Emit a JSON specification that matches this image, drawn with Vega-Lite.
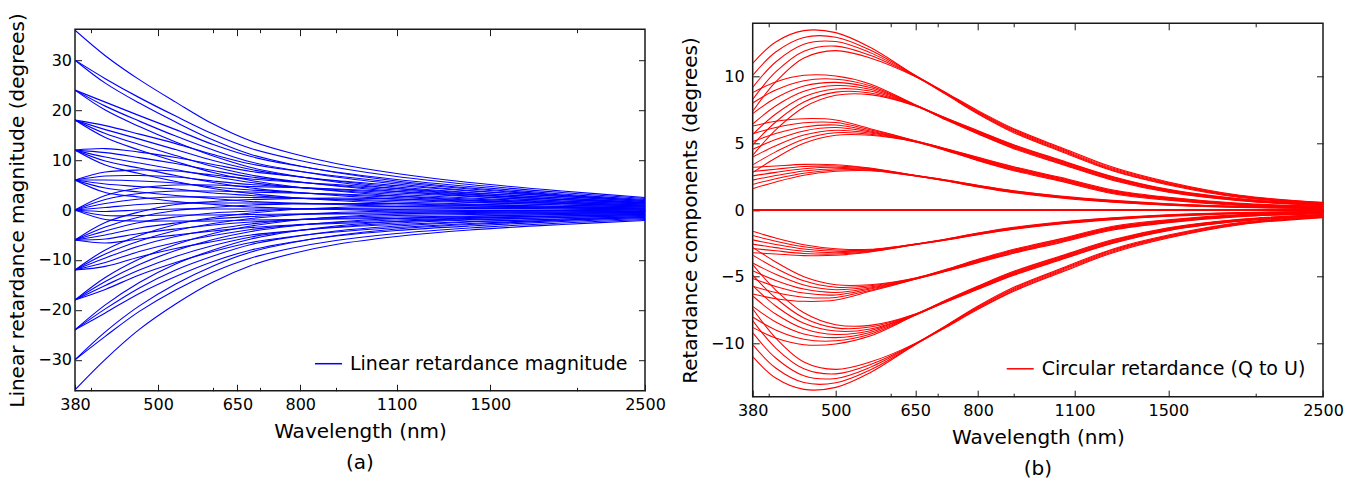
{
"$schema":"https://vega.github.io/schema/vega-lite/v6.json",
"background":"white",
"padding":{"left":6,"top":11,"right":5,"bottom":5},
"config":{"font":"DejaVu Sans","view":{"stroke":"#1a1a1a","strokeWidth":1.5},
"axis":{"grid":false,"domain":false,"tickColor":"#1a1a1a","tickWidth":1,"labelColor":"black","titleColor":"black","labelFontSize":16,"titleFontSize":20,"titleFontWeight":"normal","labelOverlap":false,"labelFlush":false},
"legend":{"labelFontSize":19,"labelColor":"black","labelLimit":0,"padding":0,"symbolSize":729,"symbolStrokeWidth":1.5,"labelOffset":7,"title":null},
"title":{"fontSize":20,"fontWeight":"normal","color":"black","orient":"bottom","anchor":"middle","offset":12}},
"datasets":{
"a":[
{"s":1,"x":380,"y":36},{"s":1,"x":420,"y":30.9},{"s":1,"x":470,"y":26.1},{"s":1,"x":530,"y":21.6},{"s":1,"x":600,"y":17.2},{"s":1,"x":680,"y":13.8},{"s":1,"x":780,"y":11.3},{"s":1,"x":900,"y":9.3},{"s":1,"x":1100,"y":7.3},{"s":1,"x":1400,"y":5.5},{"s":1,"x":1900,"y":3.8},{"s":1,"x":2500,"y":2.5},
{"s":2,"x":380,"y":30},{"s":2,"x":420,"y":26.3},{"s":2,"x":470,"y":22.5},{"s":2,"x":530,"y":18.8},{"s":2,"x":600,"y":15.2},{"s":2,"x":680,"y":12.3},{"s":2,"x":780,"y":10.2},{"s":2,"x":900,"y":8.5},{"s":2,"x":1100,"y":6.7},{"s":2,"x":1400,"y":5.1},{"s":2,"x":1900,"y":3.5},{"s":2,"x":2500,"y":2.3},
{"s":3,"x":380,"y":30},{"s":3,"x":420,"y":25.4},{"s":3,"x":470,"y":21.4},{"s":3,"x":530,"y":17.6},{"s":3,"x":600,"y":14.0},{"s":3,"x":680,"y":11.1},{"s":3,"x":780,"y":9.1},{"s":3,"x":900,"y":7.5},{"s":3,"x":1100,"y":5.8},{"s":3,"x":1400,"y":4.4},{"s":3,"x":1900,"y":3.0},{"s":3,"x":2500,"y":1.9},
{"s":4,"x":380,"y":24},{"s":4,"x":420,"y":20.8},{"s":4,"x":470,"y":17.8},{"s":4,"x":530,"y":14.8},{"s":4,"x":600,"y":12.0},{"s":4,"x":680,"y":9.6},{"s":4,"x":780,"y":8.0},{"s":4,"x":900,"y":6.6},{"s":4,"x":1100,"y":5.2},{"s":4,"x":1400,"y":3.9},{"s":4,"x":1900,"y":2.7},{"s":4,"x":2500,"y":1.7},
{"s":5,"x":380,"y":24},{"s":5,"x":420,"y":21.6},{"s":5,"x":470,"y":18.9},{"s":5,"x":530,"y":16.1},{"s":5,"x":600,"y":13.1},{"s":5,"x":680,"y":10.7},{"s":5,"x":780,"y":9.0},{"s":5,"x":900,"y":7.6},{"s":5,"x":1100,"y":6.1},{"s":5,"x":1400,"y":4.7},{"s":5,"x":1900,"y":3.2},{"s":5,"x":2500,"y":2.1},
{"s":6,"x":380,"y":24},{"s":6,"x":420,"y":20.0},{"s":6,"x":470,"y":16.7},{"s":6,"x":530,"y":13.6},{"s":6,"x":600,"y":10.8},{"s":6,"x":680,"y":8.5},{"s":6,"x":780,"y":6.9},{"s":6,"x":900,"y":5.6},{"s":6,"x":1100,"y":4.3},{"s":6,"x":1400,"y":3.2},{"s":6,"x":1900,"y":2.1},{"s":6,"x":2500,"y":1.4},
{"s":7,"x":380,"y":18},{"s":7,"x":420,"y":16.1},{"s":7,"x":470,"y":14.2},{"s":7,"x":530,"y":12.1},{"s":7,"x":600,"y":9.9},{"s":7,"x":680,"y":8.1},{"s":7,"x":780,"y":6.8},{"s":7,"x":900,"y":5.8},{"s":7,"x":1100,"y":4.6},{"s":7,"x":1400,"y":3.5},{"s":7,"x":1900,"y":2.4},{"s":7,"x":2500,"y":1.5},
{"s":8,"x":380,"y":18},{"s":8,"x":420,"y":15.3},{"s":8,"x":470,"y":13.1},{"s":8,"x":530,"y":10.9},{"s":8,"x":600,"y":8.7},{"s":8,"x":680,"y":7.0},{"s":8,"x":780,"y":5.8},{"s":8,"x":900,"y":4.8},{"s":8,"x":1100,"y":3.7},{"s":8,"x":1400,"y":2.8},{"s":8,"x":1900,"y":1.8},{"s":8,"x":2500,"y":1.2},
{"s":9,"x":380,"y":18},{"s":9,"x":420,"y":16.9},{"s":9,"x":470,"y":15.2},{"s":9,"x":530,"y":13.3},{"s":9,"x":600,"y":11.1},{"s":9,"x":680,"y":9.2},{"s":9,"x":780,"y":7.9},{"s":9,"x":900,"y":6.8},{"s":9,"x":1100,"y":5.5},{"s":9,"x":1400,"y":4.2},{"s":9,"x":1900,"y":2.9},{"s":9,"x":2500,"y":1.9},
{"s":10,"x":380,"y":18},{"s":10,"x":420,"y":14.5},{"s":10,"x":470,"y":12.0},{"s":10,"x":530,"y":9.7},{"s":10,"x":600,"y":7.5},{"s":10,"x":680,"y":5.9},{"s":10,"x":780,"y":4.7},{"s":10,"x":900,"y":3.8},{"s":10,"x":1100,"y":2.8},{"s":10,"x":1400,"y":2.0},{"s":10,"x":1900,"y":1.3},{"s":10,"x":2500,"y":0.8},
{"s":11,"x":380,"y":12},{"s":11,"x":420,"y":10.6},{"s":11,"x":470,"y":9.4},{"s":11,"x":530,"y":8.1},{"s":11,"x":600,"y":6.7},{"s":11,"x":680,"y":5.5},{"s":11,"x":780,"y":4.6},{"s":11,"x":900,"y":3.9},{"s":11,"x":1100,"y":3.1},{"s":11,"x":1400,"y":2.4},{"s":11,"x":1900,"y":1.6},{"s":11,"x":2500,"y":1.0},
{"s":12,"x":380,"y":12},{"s":12,"x":420,"y":11.5},{"s":12,"x":470,"y":10.5},{"s":12,"x":530,"y":9.3},{"s":12,"x":600,"y":7.9},{"s":12,"x":680,"y":6.6},{"s":12,"x":780,"y":5.7},{"s":12,"x":900,"y":4.9},{"s":12,"x":1100,"y":4.0},{"s":12,"x":1400,"y":3.1},{"s":12,"x":1900,"y":2.1},{"s":12,"x":2500,"y":1.4},
{"s":13,"x":380,"y":12},{"s":13,"x":420,"y":9.8},{"s":13,"x":470,"y":8.4},{"s":13,"x":530,"y":6.9},{"s":13,"x":600,"y":5.5},{"s":13,"x":680,"y":4.4},{"s":13,"x":780,"y":3.6},{"s":13,"x":900,"y":2.9},{"s":13,"x":1100,"y":2.2},{"s":13,"x":1400,"y":1.6},{"s":13,"x":1900,"y":1.0},{"s":13,"x":2500,"y":0.6},
{"s":14,"x":380,"y":12},{"s":14,"x":420,"y":12.3},{"s":14,"x":470,"y":11.6},{"s":14,"x":530,"y":10.5},{"s":14,"x":600,"y":9.1},{"s":14,"x":680,"y":7.7},{"s":14,"x":780,"y":6.8},{"s":14,"x":900,"y":5.9},{"s":14,"x":1100,"y":4.9},{"s":14,"x":1400,"y":3.8},{"s":14,"x":1900,"y":2.7},{"s":14,"x":2500,"y":1.7},
{"s":15,"x":380,"y":12},{"s":15,"x":420,"y":9.0},{"s":15,"x":470,"y":7.3},{"s":15,"x":530,"y":5.7},{"s":15,"x":600,"y":4.3},{"s":15,"x":680,"y":3.3},{"s":15,"x":780,"y":2.5},{"s":15,"x":900,"y":1.9},{"s":15,"x":1100,"y":1.3},{"s":15,"x":1400,"y":0.9},{"s":15,"x":1900,"y":0.5},{"s":15,"x":2500,"y":0.2},
{"s":16,"x":380,"y":6},{"s":16,"x":420,"y":6.0},{"s":16,"x":470,"y":5.8},{"s":16,"x":530,"y":5.4},{"s":16,"x":600,"y":4.6},{"s":16,"x":680,"y":4.0},{"s":16,"x":780,"y":3.5},{"s":16,"x":900,"y":3.1},{"s":16,"x":1100,"y":2.5},{"s":16,"x":1400,"y":1.9},{"s":16,"x":1900,"y":1.3},{"s":16,"x":2500,"y":0.8},
{"s":17,"x":380,"y":6},{"s":17,"x":420,"y":5.2},{"s":17,"x":470,"y":4.7},{"s":17,"x":530,"y":4.2},{"s":17,"x":600,"y":3.4},{"s":17,"x":680,"y":2.9},{"s":17,"x":780,"y":2.4},{"s":17,"x":900,"y":2.1},{"s":17,"x":1100,"y":1.6},{"s":17,"x":1400,"y":1.2},{"s":17,"x":1900,"y":0.7},{"s":17,"x":2500,"y":0.4},
{"s":18,"x":380,"y":6},{"s":18,"x":420,"y":6.8},{"s":18,"x":470,"y":6.9},{"s":18,"x":530,"y":6.6},{"s":18,"x":600,"y":5.8},{"s":18,"x":680,"y":5.1},{"s":18,"x":780,"y":4.6},{"s":18,"x":900,"y":4.1},{"s":18,"x":1100,"y":3.4},{"s":18,"x":1400,"y":2.7},{"s":18,"x":1900,"y":1.8},{"s":18,"x":2500,"y":1.2},
{"s":19,"x":380,"y":6},{"s":19,"x":420,"y":4.4},{"s":19,"x":470,"y":3.6},{"s":19,"x":530,"y":2.9},{"s":19,"x":600,"y":2.3},{"s":19,"x":680,"y":1.7},{"s":19,"x":780,"y":1.4},{"s":19,"x":900,"y":1.1},{"s":19,"x":1100,"y":0.7},{"s":19,"x":1400,"y":0.5},{"s":19,"x":1900,"y":0.2},{"s":19,"x":2500,"y":0.0},
{"s":20,"x":380,"y":6},{"s":20,"x":420,"y":7.6},{"s":20,"x":470,"y":8.0},{"s":20,"x":530,"y":7.8},{"s":20,"x":600,"y":7.0},{"s":20,"x":680,"y":6.2},{"s":20,"x":780,"y":5.6},{"s":20,"x":900,"y":5.1},{"s":20,"x":1100,"y":4.3},{"s":20,"x":1400,"y":3.4},{"s":20,"x":1900,"y":2.4},{"s":20,"x":2500,"y":1.5},
{"s":21,"x":380,"y":6},{"s":21,"x":420,"y":3.5},{"s":21,"x":470,"y":2.6},{"s":21,"x":530,"y":1.7},{"s":21,"x":600,"y":1.1},{"s":21,"x":680,"y":0.6},{"s":21,"x":780,"y":0.3},{"s":21,"x":900,"y":0.1},{"s":21,"x":1100,"y":-0.2},{"s":21,"x":1400,"y":-0.3},{"s":21,"x":1900,"y":-0.4},{"s":21,"x":2500,"y":-0.3},
{"s":22,"x":380,"y":0},{"s":22,"x":420,"y":0.5},{"s":22,"x":470,"y":1.1},{"s":22,"x":530,"y":1.4},{"s":22,"x":600,"y":1.4},{"s":22,"x":680,"y":1.4},{"s":22,"x":780,"y":1.3},{"s":22,"x":900,"y":1.2},{"s":22,"x":1100,"y":1.0},{"s":22,"x":1400,"y":0.8},{"s":22,"x":1900,"y":0.5},{"s":22,"x":2500,"y":0.2},
{"s":23,"x":380,"y":0},{"s":23,"x":420,"y":1.3},{"s":23,"x":470,"y":2.2},{"s":23,"x":530,"y":2.6},{"s":23,"x":600,"y":2.6},{"s":23,"x":680,"y":2.5},{"s":23,"x":780,"y":2.4},{"s":23,"x":900,"y":2.2},{"s":23,"x":1100,"y":1.9},{"s":23,"x":1400,"y":1.5},{"s":23,"x":1900,"y":1.0},{"s":23,"x":2500,"y":0.6},
{"s":24,"x":380,"y":0},{"s":24,"x":420,"y":-0.3},{"s":24,"x":470,"y":0.0},{"s":24,"x":530,"y":0.2},{"s":24,"x":600,"y":0.2},{"s":24,"x":680,"y":0.2},{"s":24,"x":780,"y":0.2},{"s":24,"x":900,"y":0.2},{"s":24,"x":1100,"y":0.1},{"s":24,"x":1400,"y":0.0},{"s":24,"x":1900,"y":-0.1},{"s":24,"x":2500,"y":-0.2},
{"s":25,"x":380,"y":0},{"s":25,"x":420,"y":2.1},{"s":25,"x":470,"y":3.3},{"s":25,"x":530,"y":3.8},{"s":25,"x":600,"y":3.8},{"s":25,"x":680,"y":3.6},{"s":25,"x":780,"y":3.4},{"s":25,"x":900,"y":3.2},{"s":25,"x":1100,"y":2.8},{"s":25,"x":1400,"y":2.2},{"s":25,"x":1900,"y":1.5},{"s":25,"x":2500,"y":1.0},
{"s":26,"x":380,"y":0},{"s":26,"x":420,"y":-1.1},{"s":26,"x":470,"y":-1.1},{"s":26,"x":530,"y":-1.0},{"s":26,"x":600,"y":-1.0},{"s":26,"x":680,"y":-0.9},{"s":26,"x":780,"y":-0.8},{"s":26,"x":900,"y":-0.8},{"s":26,"x":1100,"y":-0.8},{"s":26,"x":1400,"y":-0.7},{"s":26,"x":1900,"y":-0.6},{"s":26,"x":2500,"y":-0.5},
{"s":27,"x":380,"y":0},{"s":27,"x":420,"y":2.9},{"s":27,"x":470,"y":4.4},{"s":27,"x":530,"y":5.0},{"s":27,"x":600,"y":5.0},{"s":27,"x":680,"y":4.7},{"s":27,"x":780,"y":4.5},{"s":27,"x":900,"y":4.2},{"s":27,"x":1100,"y":3.7},{"s":27,"x":1400,"y":3.0},{"s":27,"x":1900,"y":2.1},{"s":27,"x":2500,"y":1.4},
{"s":28,"x":380,"y":0},{"s":28,"x":420,"y":-1.9},{"s":28,"x":470,"y":-2.2},{"s":28,"x":530,"y":-2.2},{"s":28,"x":600,"y":-2.2},{"s":28,"x":680,"y":-2.0},{"s":28,"x":780,"y":-1.9},{"s":28,"x":900,"y":-1.8},{"s":28,"x":1100,"y":-1.7},{"s":28,"x":1400,"y":-1.5},{"s":28,"x":1900,"y":-1.2},{"s":28,"x":2500,"y":-0.9},
{"s":29,"x":380,"y":-6},{"s":29,"x":420,"y":-4.2},{"s":29,"x":470,"y":-2.5},{"s":29,"x":530,"y":-1.4},{"s":29,"x":600,"y":-0.6},{"s":29,"x":680,"y":-0.2},{"s":29,"x":780,"y":0.2},{"s":29,"x":900,"y":0.3},{"s":29,"x":1100,"y":0.4},{"s":29,"x":1400,"y":0.3},{"s":29,"x":1900,"y":0.2},{"s":29,"x":2500,"y":0.0},
{"s":30,"x":380,"y":-6},{"s":30,"x":420,"y":-5.0},{"s":30,"x":470,"y":-3.6},{"s":30,"x":530,"y":-2.6},{"s":30,"x":600,"y":-1.8},{"s":30,"x":680,"y":-1.3},{"s":30,"x":780,"y":-0.9},{"s":30,"x":900,"y":-0.7},{"s":30,"x":1100,"y":-0.5},{"s":30,"x":1400,"y":-0.4},{"s":30,"x":1900,"y":-0.4},{"s":30,"x":2500,"y":-0.3},
{"s":31,"x":380,"y":-6},{"s":31,"x":420,"y":-3.4},{"s":31,"x":470,"y":-1.4},{"s":31,"x":530,"y":-0.1},{"s":31,"x":600,"y":0.5},{"s":31,"x":680,"y":1.0},{"s":31,"x":780,"y":1.2},{"s":31,"x":900,"y":1.3},{"s":31,"x":1100,"y":1.3},{"s":31,"x":1400,"y":1.1},{"s":31,"x":1900,"y":0.7},{"s":31,"x":2500,"y":0.4},
{"s":32,"x":380,"y":-6},{"s":32,"x":420,"y":-5.8},{"s":32,"x":470,"y":-4.7},{"s":32,"x":530,"y":-3.8},{"s":32,"x":600,"y":-3.0},{"s":32,"x":680,"y":-2.4},{"s":32,"x":780,"y":-2.0},{"s":32,"x":900,"y":-1.7},{"s":32,"x":1100,"y":-1.4},{"s":32,"x":1400,"y":-1.2},{"s":32,"x":1900,"y":-0.9},{"s":32,"x":2500,"y":-0.7},
{"s":33,"x":380,"y":-6},{"s":33,"x":420,"y":-2.5},{"s":33,"x":470,"y":-0.4},{"s":33,"x":530,"y":1.1},{"s":33,"x":600,"y":1.7},{"s":33,"x":680,"y":2.1},{"s":33,"x":780,"y":2.3},{"s":33,"x":900,"y":2.4},{"s":33,"x":1100,"y":2.2},{"s":33,"x":1400,"y":1.8},{"s":33,"x":1900,"y":1.3},{"s":33,"x":2500,"y":0.8},
{"s":34,"x":380,"y":-6},{"s":34,"x":420,"y":-6.6},{"s":34,"x":470,"y":-5.8},{"s":34,"x":530,"y":-5.0},{"s":34,"x":600,"y":-4.2},{"s":34,"x":680,"y":-3.5},{"s":34,"x":780,"y":-3.0},{"s":34,"x":900,"y":-2.7},{"s":34,"x":1100,"y":-2.3},{"s":34,"x":1400,"y":-1.9},{"s":34,"x":1900,"y":-1.5},{"s":34,"x":2500,"y":-1.1},
{"s":35,"x":380,"y":-12},{"s":35,"x":420,"y":-9.6},{"s":35,"x":470,"y":-7.2},{"s":35,"x":530,"y":-5.3},{"s":35,"x":600,"y":-3.9},{"s":35,"x":680,"y":-2.8},{"s":35,"x":780,"y":-2.0},{"s":35,"x":900,"y":-1.5},{"s":35,"x":1100,"y":-1.1},{"s":35,"x":1400,"y":-0.9},{"s":35,"x":1900,"y":-0.7},{"s":35,"x":2500,"y":-0.5},
{"s":36,"x":380,"y":-12},{"s":36,"x":420,"y":-8.8},{"s":36,"x":470,"y":-6.2},{"s":36,"x":530,"y":-4.1},{"s":36,"x":600,"y":-2.7},{"s":36,"x":680,"y":-1.7},{"s":36,"x":780,"y":-1.0},{"s":36,"x":900,"y":-0.5},{"s":36,"x":1100,"y":-0.2},{"s":36,"x":1400,"y":-0.1},{"s":36,"x":1900,"y":-0.1},{"s":36,"x":2500,"y":-0.2},
{"s":37,"x":380,"y":-12},{"s":37,"x":420,"y":-10.5},{"s":37,"x":470,"y":-8.3},{"s":37,"x":530,"y":-6.5},{"s":37,"x":600,"y":-5.1},{"s":37,"x":680,"y":-3.9},{"s":37,"x":780,"y":-3.1},{"s":37,"x":900,"y":-2.5},{"s":37,"x":1100,"y":-2.0},{"s":37,"x":1400,"y":-1.6},{"s":37,"x":1900,"y":-1.2},{"s":37,"x":2500,"y":-0.9},
{"s":38,"x":380,"y":-12},{"s":38,"x":420,"y":-8.0},{"s":38,"x":470,"y":-5.1},{"s":38,"x":530,"y":-2.9},{"s":38,"x":600,"y":-1.5},{"s":38,"x":680,"y":-0.6},{"s":38,"x":780,"y":0.1},{"s":38,"x":900,"y":0.5},{"s":38,"x":1100,"y":0.7},{"s":38,"x":1400,"y":0.6},{"s":38,"x":1900,"y":0.4},{"s":38,"x":2500,"y":0.2},
{"s":39,"x":380,"y":-12},{"s":39,"x":420,"y":-11.3},{"s":39,"x":470,"y":-9.4},{"s":39,"x":530,"y":-7.7},{"s":39,"x":600,"y":-6.3},{"s":39,"x":680,"y":-5.0},{"s":39,"x":780,"y":-4.2},{"s":39,"x":900,"y":-3.5},{"s":39,"x":1100,"y":-2.9},{"s":39,"x":1400,"y":-2.3},{"s":39,"x":1900,"y":-1.8},{"s":39,"x":2500,"y":-1.3},
{"s":40,"x":380,"y":-18},{"s":40,"x":420,"y":-14.3},{"s":40,"x":470,"y":-10.9},{"s":40,"x":530,"y":-8.1},{"s":40,"x":600,"y":-5.9},{"s":40,"x":680,"y":-4.3},{"s":40,"x":780,"y":-3.2},{"s":40,"x":900,"y":-2.4},{"s":40,"x":1100,"y":-1.7},{"s":40,"x":1400,"y":-1.3},{"s":40,"x":1900,"y":-0.9},{"s":40,"x":2500,"y":-0.7},
{"s":41,"x":380,"y":-18},{"s":41,"x":420,"y":-15.1},{"s":41,"x":470,"y":-12.0},{"s":41,"x":530,"y":-9.3},{"s":41,"x":600,"y":-7.1},{"s":41,"x":680,"y":-5.4},{"s":41,"x":780,"y":-4.2},{"s":41,"x":900,"y":-3.4},{"s":41,"x":1100,"y":-2.6},{"s":41,"x":1400,"y":-2.0},{"s":41,"x":1900,"y":-1.5},{"s":41,"x":2500,"y":-1.1},
{"s":42,"x":380,"y":-18},{"s":42,"x":420,"y":-13.5},{"s":42,"x":470,"y":-9.8},{"s":42,"x":530,"y":-6.9},{"s":42,"x":600,"y":-4.7},{"s":42,"x":680,"y":-3.2},{"s":42,"x":780,"y":-2.1},{"s":42,"x":900,"y":-1.4},{"s":42,"x":1100,"y":-0.8},{"s":42,"x":1400,"y":-0.5},{"s":42,"x":1900,"y":-0.4},{"s":42,"x":2500,"y":-0.3},
{"s":43,"x":380,"y":-18},{"s":43,"x":420,"y":-15.9},{"s":43,"x":470,"y":-13.0},{"s":43,"x":530,"y":-10.5},{"s":43,"x":600,"y":-8.3},{"s":43,"x":680,"y":-6.5},{"s":43,"x":780,"y":-5.3},{"s":43,"x":900,"y":-4.4},{"s":43,"x":1100,"y":-3.5},{"s":43,"x":1400,"y":-2.7},{"s":43,"x":1900,"y":-2.0},{"s":43,"x":2500,"y":-1.5},
{"s":44,"x":380,"y":-24},{"s":44,"x":420,"y":-19.8},{"s":44,"x":470,"y":-15.6},{"s":44,"x":530,"y":-12.0},{"s":44,"x":600,"y":-9.2},{"s":44,"x":680,"y":-6.9},{"s":44,"x":780,"y":-5.4},{"s":44,"x":900,"y":-4.2},{"s":44,"x":1100,"y":-3.2},{"s":44,"x":1400,"y":-2.4},{"s":44,"x":1900,"y":-1.8},{"s":44,"x":2500,"y":-1.3},
{"s":45,"x":380,"y":-24},{"s":45,"x":420,"y":-19.0},{"s":45,"x":470,"y":-14.5},{"s":45,"x":530,"y":-10.8},{"s":45,"x":600,"y":-8.0},{"s":45,"x":680,"y":-5.8},{"s":45,"x":780,"y":-4.3},{"s":45,"x":900,"y":-3.2},{"s":45,"x":1100,"y":-2.3},{"s":45,"x":1400,"y":-1.7},{"s":45,"x":1900,"y":-1.2},{"s":45,"x":2500,"y":-0.9},
{"s":46,"x":380,"y":-24},{"s":46,"x":420,"y":-20.6},{"s":46,"x":470,"y":-16.7},{"s":46,"x":530,"y":-13.3},{"s":46,"x":600,"y":-10.3},{"s":46,"x":680,"y":-8.0},{"s":46,"x":780,"y":-6.4},{"s":46,"x":900,"y":-5.2},{"s":46,"x":1100,"y":-4.1},{"s":46,"x":1400,"y":-3.2},{"s":46,"x":1900,"y":-2.3},{"s":46,"x":2500,"y":-1.7},
{"s":47,"x":380,"y":-30},{"s":47,"x":420,"y":-24.4},{"s":47,"x":470,"y":-19.2},{"s":47,"x":530,"y":-14.8},{"s":47,"x":600,"y":-11.2},{"s":47,"x":680,"y":-8.4},{"s":47,"x":780,"y":-6.5},{"s":47,"x":900,"y":-5.1},{"s":47,"x":1100,"y":-3.8},{"s":47,"x":1400,"y":-2.9},{"s":47,"x":1900,"y":-2.1},{"s":47,"x":2500,"y":-1.5},
{"s":48,"x":380,"y":-30},{"s":48,"x":420,"y":-25.3},{"s":48,"x":470,"y":-20.3},{"s":48,"x":530,"y":-16.0},{"s":48,"x":600,"y":-12.4},{"s":48,"x":680,"y":-9.6},{"s":48,"x":780,"y":-7.6},{"s":48,"x":900,"y":-6.1},{"s":48,"x":1100,"y":-4.7},{"s":48,"x":1400,"y":-3.6},{"s":48,"x":1900,"y":-2.6},{"s":48,"x":2500,"y":-1.9},
{"s":49,"x":380,"y":-36},{"s":49,"x":420,"y":-29.9},{"s":49,"x":470,"y":-23.9},{"s":49,"x":530,"y":-18.8},{"s":49,"x":600,"y":-14.4},{"s":49,"x":680,"y":-11.1},{"s":49,"x":780,"y":-8.7},{"s":49,"x":900,"y":-6.9},{"s":49,"x":1100,"y":-5.3},{"s":49,"x":1400,"y":-4.0},{"s":49,"x":1900,"y":-2.9},{"s":49,"x":2500,"y":-2.1}
],
"b":[
{"s":300,"x":380,"y":0},{"s":300,"x":2500,"y":0},
{"s":101,"x":380,"y":11.0},{"s":101,"x":410,"y":12.6},{"s":101,"x":450,"y":13.45},{"s":101,"x":500,"y":13.3},{"s":101,"x":560,"y":12.2},{"s":101,"x":650,"y":10.1},{"s":101,"x":720,"y":8.8},{"s":101,"x":800,"y":7.45},{"s":101,"x":900,"y":6.1},{"s":101,"x":1050,"y":4.7},{"s":101,"x":1250,"y":3.2},{"s":101,"x":1500,"y":2.1},{"s":101,"x":1900,"y":1.1},{"s":101,"x":2500,"y":0.57},
{"s":102,"x":380,"y":10.1},{"s":102,"x":410,"y":11.85},{"s":102,"x":450,"y":12.94},{"s":102,"x":500,"y":12.96},{"s":102,"x":560,"y":12.0},{"s":102,"x":650,"y":10.08},{"s":102,"x":720,"y":8.76},{"s":102,"x":800,"y":7.39},{"s":102,"x":900,"y":6.03},{"s":102,"x":1050,"y":4.63},{"s":102,"x":1250,"y":3.13},{"s":102,"x":1500,"y":2.05},{"s":102,"x":1900,"y":1.06},{"s":102,"x":2500,"y":0.55},
{"s":103,"x":380,"y":9.2},{"s":103,"x":410,"y":11.1},{"s":103,"x":450,"y":12.43},{"s":103,"x":500,"y":12.63},{"s":103,"x":560,"y":11.8},{"s":103,"x":650,"y":10.05},{"s":103,"x":720,"y":8.73},{"s":103,"x":800,"y":7.33},{"s":103,"x":900,"y":5.95},{"s":103,"x":1050,"y":4.55},{"s":103,"x":1250,"y":3.06},{"s":103,"x":1500,"y":1.99},{"s":103,"x":1900,"y":1.02},{"s":103,"x":2500,"y":0.52},
{"s":104,"x":380,"y":8.3},{"s":104,"x":410,"y":10.35},{"s":104,"x":450,"y":11.91},{"s":104,"x":500,"y":12.29},{"s":104,"x":560,"y":11.6},{"s":104,"x":650,"y":10.03},{"s":104,"x":720,"y":8.69},{"s":104,"x":800,"y":7.26},{"s":104,"x":900,"y":5.88},{"s":104,"x":1050,"y":4.48},{"s":104,"x":1250,"y":2.99},{"s":104,"x":1500,"y":1.94},{"s":104,"x":1900,"y":0.98},{"s":104,"x":2500,"y":0.5},
{"s":105,"x":380,"y":7.4},{"s":105,"x":410,"y":9.6},{"s":105,"x":450,"y":11.4},{"s":105,"x":500,"y":11.95},{"s":105,"x":560,"y":11.4},{"s":105,"x":650,"y":10.0},{"s":105,"x":720,"y":8.65},{"s":105,"x":800,"y":7.2},{"s":105,"x":900,"y":5.8},{"s":105,"x":1050,"y":4.4},{"s":105,"x":1250,"y":2.92},{"s":105,"x":1500,"y":1.88},{"s":105,"x":1900,"y":0.94},{"s":105,"x":2500,"y":0.47},
{"s":111,"x":380,"y":8.8},{"s":111,"x":410,"y":9.6},{"s":111,"x":450,"y":10.1},{"s":111,"x":500,"y":10.05},{"s":111,"x":560,"y":9.45},{"s":111,"x":650,"y":7.9},{"s":111,"x":720,"y":6.9},{"s":111,"x":800,"y":5.95},{"s":111,"x":900,"y":4.9},{"s":111,"x":1050,"y":3.75},{"s":111,"x":1250,"y":2.5},{"s":111,"x":1500,"y":1.55},{"s":111,"x":1900,"y":0.85},{"s":111,"x":2500,"y":0.43},
{"s":112,"x":380,"y":8.02},{"s":112,"x":410,"y":9.0},{"s":112,"x":450,"y":9.7},{"s":112,"x":500,"y":9.81},{"s":112,"x":560,"y":9.32},{"s":112,"x":650,"y":7.88},{"s":112,"x":720,"y":6.88},{"s":112,"x":800,"y":5.91},{"s":112,"x":900,"y":4.85},{"s":112,"x":1050,"y":3.7},{"s":112,"x":1250,"y":2.45},{"s":112,"x":1500,"y":1.51},{"s":112,"x":1900,"y":0.82},{"s":112,"x":2500,"y":0.41},
{"s":113,"x":380,"y":7.23},{"s":113,"x":410,"y":8.4},{"s":113,"x":450,"y":9.3},{"s":113,"x":500,"y":9.57},{"s":113,"x":560,"y":9.18},{"s":113,"x":650,"y":7.87},{"s":113,"x":720,"y":6.85},{"s":113,"x":800,"y":5.87},{"s":113,"x":900,"y":4.8},{"s":113,"x":1050,"y":3.65},{"s":113,"x":1250,"y":2.41},{"s":113,"x":1500,"y":1.48},{"s":113,"x":1900,"y":0.8},{"s":113,"x":2500,"y":0.4},
{"s":114,"x":380,"y":6.45},{"s":114,"x":410,"y":7.8},{"s":114,"x":450,"y":8.9},{"s":114,"x":500,"y":9.33},{"s":114,"x":560,"y":9.05},{"s":114,"x":650,"y":7.85},{"s":114,"x":720,"y":6.83},{"s":114,"x":800,"y":5.83},{"s":114,"x":900,"y":4.75},{"s":114,"x":1050,"y":3.6},{"s":114,"x":1250,"y":2.36},{"s":114,"x":1500,"y":1.44},{"s":114,"x":1900,"y":0.77},{"s":114,"x":2500,"y":0.38},
{"s":115,"x":380,"y":5.67},{"s":115,"x":410,"y":7.2},{"s":115,"x":450,"y":8.5},{"s":115,"x":500,"y":9.08},{"s":115,"x":560,"y":8.92},{"s":115,"x":650,"y":7.83},{"s":115,"x":720,"y":6.8},{"s":115,"x":800,"y":5.78},{"s":115,"x":900,"y":4.7},{"s":115,"x":1050,"y":3.55},{"s":115,"x":1250,"y":2.31},{"s":115,"x":1500,"y":1.4},{"s":115,"x":1900,"y":0.74},{"s":115,"x":2500,"y":0.36},
{"s":116,"x":380,"y":4.88},{"s":116,"x":410,"y":6.6},{"s":116,"x":450,"y":8.1},{"s":116,"x":500,"y":8.84},{"s":116,"x":560,"y":8.78},{"s":116,"x":650,"y":7.82},{"s":116,"x":720,"y":6.78},{"s":116,"x":800,"y":5.74},{"s":116,"x":900,"y":4.65},{"s":116,"x":1050,"y":3.5},{"s":116,"x":1250,"y":2.27},{"s":116,"x":1500,"y":1.37},{"s":116,"x":1900,"y":0.72},{"s":116,"x":2500,"y":0.35},
{"s":117,"x":380,"y":4.1},{"s":117,"x":410,"y":6.0},{"s":117,"x":450,"y":7.7},{"s":117,"x":500,"y":8.6},{"s":117,"x":560,"y":8.65},{"s":117,"x":650,"y":7.8},{"s":117,"x":720,"y":6.75},{"s":117,"x":800,"y":5.7},{"s":117,"x":900,"y":4.6},{"s":117,"x":1050,"y":3.45},{"s":117,"x":1250,"y":2.22},{"s":117,"x":1500,"y":1.33},{"s":117,"x":1900,"y":0.69},{"s":117,"x":2500,"y":0.33},
{"s":121,"x":380,"y":6.3},{"s":121,"x":410,"y":6.65},{"s":121,"x":450,"y":6.85},{"s":121,"x":500,"y":6.75},{"s":121,"x":560,"y":6.1},{"s":121,"x":650,"y":5.2},{"s":121,"x":720,"y":4.6},{"s":121,"x":800,"y":3.95},{"s":121,"x":900,"y":3.25},{"s":121,"x":1050,"y":2.45},{"s":121,"x":1250,"y":1.5},{"s":121,"x":1500,"y":0.95},{"s":121,"x":1900,"y":0.5},{"s":121,"x":2500,"y":0.29},
{"s":122,"x":380,"y":5.72},{"s":122,"x":410,"y":6.19},{"s":122,"x":450,"y":6.54},{"s":122,"x":500,"y":6.56},{"s":122,"x":560,"y":6.02},{"s":122,"x":650,"y":5.18},{"s":122,"x":720,"y":4.58},{"s":122,"x":800,"y":3.91},{"s":122,"x":900,"y":3.2},{"s":122,"x":1050,"y":2.4},{"s":122,"x":1250,"y":1.45},{"s":122,"x":1500,"y":0.91},{"s":122,"x":1900,"y":0.47},{"s":122,"x":2500,"y":0.27},
{"s":123,"x":380,"y":5.13},{"s":123,"x":410,"y":5.73},{"s":123,"x":450,"y":6.23},{"s":123,"x":500,"y":6.37},{"s":123,"x":560,"y":5.93},{"s":123,"x":650,"y":5.17},{"s":123,"x":720,"y":4.55},{"s":123,"x":800,"y":3.87},{"s":123,"x":900,"y":3.15},{"s":123,"x":1050,"y":2.35},{"s":123,"x":1250,"y":1.41},{"s":123,"x":1500,"y":0.88},{"s":123,"x":1900,"y":0.45},{"s":123,"x":2500,"y":0.26},
{"s":124,"x":380,"y":4.55},{"s":124,"x":410,"y":5.28},{"s":124,"x":450,"y":5.93},{"s":124,"x":500,"y":6.18},{"s":124,"x":560,"y":5.85},{"s":124,"x":650,"y":5.15},{"s":124,"x":720,"y":4.53},{"s":124,"x":800,"y":3.83},{"s":124,"x":900,"y":3.1},{"s":124,"x":1050,"y":2.3},{"s":124,"x":1250,"y":1.36},{"s":124,"x":1500,"y":0.84},{"s":124,"x":1900,"y":0.42},{"s":124,"x":2500,"y":0.24},
{"s":125,"x":380,"y":3.97},{"s":125,"x":410,"y":4.82},{"s":125,"x":450,"y":5.62},{"s":125,"x":500,"y":5.98},{"s":125,"x":560,"y":5.77},{"s":125,"x":650,"y":5.13},{"s":125,"x":720,"y":4.5},{"s":125,"x":800,"y":3.78},{"s":125,"x":900,"y":3.05},{"s":125,"x":1050,"y":2.25},{"s":125,"x":1250,"y":1.31},{"s":125,"x":1500,"y":0.8},{"s":125,"x":1900,"y":0.39},{"s":125,"x":2500,"y":0.22},
{"s":126,"x":380,"y":3.38},{"s":126,"x":410,"y":4.36},{"s":126,"x":450,"y":5.31},{"s":126,"x":500,"y":5.79},{"s":126,"x":560,"y":5.68},{"s":126,"x":650,"y":5.12},{"s":126,"x":720,"y":4.48},{"s":126,"x":800,"y":3.74},{"s":126,"x":900,"y":3.0},{"s":126,"x":1050,"y":2.2},{"s":126,"x":1250,"y":1.27},{"s":126,"x":1500,"y":0.77},{"s":126,"x":1900,"y":0.37},{"s":126,"x":2500,"y":0.21},
{"s":127,"x":380,"y":2.8},{"s":127,"x":410,"y":3.9},{"s":127,"x":450,"y":5.0},{"s":127,"x":500,"y":5.6},{"s":127,"x":560,"y":5.6},{"s":127,"x":650,"y":5.1},{"s":127,"x":720,"y":4.45},{"s":127,"x":800,"y":3.7},{"s":127,"x":900,"y":2.95},{"s":127,"x":1050,"y":2.15},{"s":127,"x":1250,"y":1.22},{"s":127,"x":1500,"y":0.73},{"s":127,"x":1900,"y":0.34},{"s":127,"x":2500,"y":0.19},
{"s":131,"x":380,"y":3.2},{"s":131,"x":410,"y":3.3},{"s":131,"x":450,"y":3.42},{"s":131,"x":500,"y":3.4},{"s":131,"x":560,"y":3.15},{"s":131,"x":650,"y":2.6},{"s":131,"x":720,"y":2.25},{"s":131,"x":800,"y":1.85},{"s":131,"x":900,"y":1.45},{"s":131,"x":1050,"y":1.05},{"s":131,"x":1250,"y":0.72},{"s":131,"x":1500,"y":0.47},{"s":131,"x":1900,"y":0.27},{"s":131,"x":2500,"y":0.15},
{"s":132,"x":380,"y":2.88},{"s":132,"x":410,"y":3.06},{"s":132,"x":450,"y":3.26},{"s":132,"x":500,"y":3.3},{"s":132,"x":560,"y":3.11},{"s":132,"x":650,"y":2.59},{"s":132,"x":720,"y":2.24},{"s":132,"x":800,"y":1.83},{"s":132,"x":900,"y":1.42},{"s":132,"x":1050,"y":1.02},{"s":132,"x":1250,"y":0.69},{"s":132,"x":1500,"y":0.45},{"s":132,"x":1900,"y":0.25},{"s":132,"x":2500,"y":0.14},
{"s":133,"x":380,"y":2.56},{"s":133,"x":410,"y":2.82},{"s":133,"x":450,"y":3.09},{"s":133,"x":500,"y":3.2},{"s":133,"x":560,"y":3.07},{"s":133,"x":650,"y":2.58},{"s":133,"x":720,"y":2.22},{"s":133,"x":800,"y":1.8},{"s":133,"x":900,"y":1.39},{"s":133,"x":1050,"y":0.99},{"s":133,"x":1250,"y":0.66},{"s":133,"x":1500,"y":0.43},{"s":133,"x":1900,"y":0.24},{"s":133,"x":2500,"y":0.13},
{"s":134,"x":380,"y":2.24},{"s":134,"x":410,"y":2.58},{"s":134,"x":450,"y":2.93},{"s":134,"x":500,"y":3.1},{"s":134,"x":560,"y":3.03},{"s":134,"x":650,"y":2.57},{"s":134,"x":720,"y":2.21},{"s":134,"x":800,"y":1.78},{"s":134,"x":900,"y":1.36},{"s":134,"x":1050,"y":0.96},{"s":134,"x":1250,"y":0.64},{"s":134,"x":1500,"y":0.4},{"s":134,"x":1900,"y":0.22},{"s":134,"x":2500,"y":0.12},
{"s":135,"x":380,"y":1.92},{"s":135,"x":410,"y":2.34},{"s":135,"x":450,"y":2.76},{"s":135,"x":500,"y":3.0},{"s":135,"x":560,"y":2.99},{"s":135,"x":650,"y":2.56},{"s":135,"x":720,"y":2.19},{"s":135,"x":800,"y":1.75},{"s":135,"x":900,"y":1.33},{"s":135,"x":1050,"y":0.93},{"s":135,"x":1250,"y":0.61},{"s":135,"x":1500,"y":0.38},{"s":135,"x":1900,"y":0.21},{"s":135,"x":2500,"y":0.11},
{"s":136,"x":380,"y":1.6},{"s":136,"x":410,"y":2.1},{"s":136,"x":450,"y":2.6},{"s":136,"x":500,"y":2.9},{"s":136,"x":560,"y":2.95},{"s":136,"x":650,"y":2.55},{"s":136,"x":720,"y":2.18},{"s":136,"x":800,"y":1.73},{"s":136,"x":900,"y":1.3},{"s":136,"x":1050,"y":0.9},{"s":136,"x":1250,"y":0.58},{"s":136,"x":1500,"y":0.36},{"s":136,"x":1900,"y":0.19},{"s":136,"x":2500,"y":0.1},
{"s":201,"x":380,"y":-11.0},{"s":201,"x":410,"y":-12.6},{"s":201,"x":450,"y":-13.45},{"s":201,"x":500,"y":-13.3},{"s":201,"x":560,"y":-12.2},{"s":201,"x":650,"y":-10.1},{"s":201,"x":720,"y":-8.8},{"s":201,"x":800,"y":-7.45},{"s":201,"x":900,"y":-6.1},{"s":201,"x":1050,"y":-4.7},{"s":201,"x":1250,"y":-3.2},{"s":201,"x":1500,"y":-2.1},{"s":201,"x":1900,"y":-1.1},{"s":201,"x":2500,"y":-0.57},
{"s":202,"x":380,"y":-10.1},{"s":202,"x":410,"y":-11.85},{"s":202,"x":450,"y":-12.94},{"s":202,"x":500,"y":-12.96},{"s":202,"x":560,"y":-12.0},{"s":202,"x":650,"y":-10.08},{"s":202,"x":720,"y":-8.76},{"s":202,"x":800,"y":-7.39},{"s":202,"x":900,"y":-6.03},{"s":202,"x":1050,"y":-4.63},{"s":202,"x":1250,"y":-3.13},{"s":202,"x":1500,"y":-2.05},{"s":202,"x":1900,"y":-1.06},{"s":202,"x":2500,"y":-0.55},
{"s":203,"x":380,"y":-9.2},{"s":203,"x":410,"y":-11.1},{"s":203,"x":450,"y":-12.43},{"s":203,"x":500,"y":-12.63},{"s":203,"x":560,"y":-11.8},{"s":203,"x":650,"y":-10.05},{"s":203,"x":720,"y":-8.73},{"s":203,"x":800,"y":-7.33},{"s":203,"x":900,"y":-5.95},{"s":203,"x":1050,"y":-4.55},{"s":203,"x":1250,"y":-3.06},{"s":203,"x":1500,"y":-1.99},{"s":203,"x":1900,"y":-1.02},{"s":203,"x":2500,"y":-0.52},
{"s":204,"x":380,"y":-8.3},{"s":204,"x":410,"y":-10.35},{"s":204,"x":450,"y":-11.91},{"s":204,"x":500,"y":-12.29},{"s":204,"x":560,"y":-11.6},{"s":204,"x":650,"y":-10.03},{"s":204,"x":720,"y":-8.69},{"s":204,"x":800,"y":-7.26},{"s":204,"x":900,"y":-5.88},{"s":204,"x":1050,"y":-4.48},{"s":204,"x":1250,"y":-2.99},{"s":204,"x":1500,"y":-1.94},{"s":204,"x":1900,"y":-0.98},{"s":204,"x":2500,"y":-0.5},
{"s":205,"x":380,"y":-7.4},{"s":205,"x":410,"y":-9.6},{"s":205,"x":450,"y":-11.4},{"s":205,"x":500,"y":-11.95},{"s":205,"x":560,"y":-11.4},{"s":205,"x":650,"y":-10.0},{"s":205,"x":720,"y":-8.65},{"s":205,"x":800,"y":-7.2},{"s":205,"x":900,"y":-5.8},{"s":205,"x":1050,"y":-4.4},{"s":205,"x":1250,"y":-2.92},{"s":205,"x":1500,"y":-1.88},{"s":205,"x":1900,"y":-0.94},{"s":205,"x":2500,"y":-0.47},
{"s":211,"x":380,"y":-8.8},{"s":211,"x":410,"y":-9.6},{"s":211,"x":450,"y":-10.1},{"s":211,"x":500,"y":-10.05},{"s":211,"x":560,"y":-9.45},{"s":211,"x":650,"y":-7.9},{"s":211,"x":720,"y":-6.9},{"s":211,"x":800,"y":-5.95},{"s":211,"x":900,"y":-4.9},{"s":211,"x":1050,"y":-3.75},{"s":211,"x":1250,"y":-2.5},{"s":211,"x":1500,"y":-1.55},{"s":211,"x":1900,"y":-0.85},{"s":211,"x":2500,"y":-0.43},
{"s":212,"x":380,"y":-8.02},{"s":212,"x":410,"y":-9.0},{"s":212,"x":450,"y":-9.7},{"s":212,"x":500,"y":-9.81},{"s":212,"x":560,"y":-9.32},{"s":212,"x":650,"y":-7.88},{"s":212,"x":720,"y":-6.88},{"s":212,"x":800,"y":-5.91},{"s":212,"x":900,"y":-4.85},{"s":212,"x":1050,"y":-3.7},{"s":212,"x":1250,"y":-2.45},{"s":212,"x":1500,"y":-1.51},{"s":212,"x":1900,"y":-0.82},{"s":212,"x":2500,"y":-0.41},
{"s":213,"x":380,"y":-7.23},{"s":213,"x":410,"y":-8.4},{"s":213,"x":450,"y":-9.3},{"s":213,"x":500,"y":-9.57},{"s":213,"x":560,"y":-9.18},{"s":213,"x":650,"y":-7.87},{"s":213,"x":720,"y":-6.85},{"s":213,"x":800,"y":-5.87},{"s":213,"x":900,"y":-4.8},{"s":213,"x":1050,"y":-3.65},{"s":213,"x":1250,"y":-2.41},{"s":213,"x":1500,"y":-1.48},{"s":213,"x":1900,"y":-0.8},{"s":213,"x":2500,"y":-0.4},
{"s":214,"x":380,"y":-6.45},{"s":214,"x":410,"y":-7.8},{"s":214,"x":450,"y":-8.9},{"s":214,"x":500,"y":-9.33},{"s":214,"x":560,"y":-9.05},{"s":214,"x":650,"y":-7.85},{"s":214,"x":720,"y":-6.83},{"s":214,"x":800,"y":-5.83},{"s":214,"x":900,"y":-4.75},{"s":214,"x":1050,"y":-3.6},{"s":214,"x":1250,"y":-2.36},{"s":214,"x":1500,"y":-1.44},{"s":214,"x":1900,"y":-0.77},{"s":214,"x":2500,"y":-0.38},
{"s":215,"x":380,"y":-5.67},{"s":215,"x":410,"y":-7.2},{"s":215,"x":450,"y":-8.5},{"s":215,"x":500,"y":-9.08},{"s":215,"x":560,"y":-8.92},{"s":215,"x":650,"y":-7.83},{"s":215,"x":720,"y":-6.8},{"s":215,"x":800,"y":-5.78},{"s":215,"x":900,"y":-4.7},{"s":215,"x":1050,"y":-3.55},{"s":215,"x":1250,"y":-2.31},{"s":215,"x":1500,"y":-1.4},{"s":215,"x":1900,"y":-0.74},{"s":215,"x":2500,"y":-0.36},
{"s":216,"x":380,"y":-4.88},{"s":216,"x":410,"y":-6.6},{"s":216,"x":450,"y":-8.1},{"s":216,"x":500,"y":-8.84},{"s":216,"x":560,"y":-8.78},{"s":216,"x":650,"y":-7.82},{"s":216,"x":720,"y":-6.78},{"s":216,"x":800,"y":-5.74},{"s":216,"x":900,"y":-4.65},{"s":216,"x":1050,"y":-3.5},{"s":216,"x":1250,"y":-2.27},{"s":216,"x":1500,"y":-1.37},{"s":216,"x":1900,"y":-0.72},{"s":216,"x":2500,"y":-0.35},
{"s":217,"x":380,"y":-4.1},{"s":217,"x":410,"y":-6.0},{"s":217,"x":450,"y":-7.7},{"s":217,"x":500,"y":-8.6},{"s":217,"x":560,"y":-8.65},{"s":217,"x":650,"y":-7.8},{"s":217,"x":720,"y":-6.75},{"s":217,"x":800,"y":-5.7},{"s":217,"x":900,"y":-4.6},{"s":217,"x":1050,"y":-3.45},{"s":217,"x":1250,"y":-2.22},{"s":217,"x":1500,"y":-1.33},{"s":217,"x":1900,"y":-0.69},{"s":217,"x":2500,"y":-0.33},
{"s":221,"x":380,"y":-6.3},{"s":221,"x":410,"y":-6.65},{"s":221,"x":450,"y":-6.85},{"s":221,"x":500,"y":-6.75},{"s":221,"x":560,"y":-6.1},{"s":221,"x":650,"y":-5.2},{"s":221,"x":720,"y":-4.6},{"s":221,"x":800,"y":-3.95},{"s":221,"x":900,"y":-3.25},{"s":221,"x":1050,"y":-2.45},{"s":221,"x":1250,"y":-1.5},{"s":221,"x":1500,"y":-0.95},{"s":221,"x":1900,"y":-0.5},{"s":221,"x":2500,"y":-0.29},
{"s":222,"x":380,"y":-5.72},{"s":222,"x":410,"y":-6.19},{"s":222,"x":450,"y":-6.54},{"s":222,"x":500,"y":-6.56},{"s":222,"x":560,"y":-6.02},{"s":222,"x":650,"y":-5.18},{"s":222,"x":720,"y":-4.58},{"s":222,"x":800,"y":-3.91},{"s":222,"x":900,"y":-3.2},{"s":222,"x":1050,"y":-2.4},{"s":222,"x":1250,"y":-1.45},{"s":222,"x":1500,"y":-0.91},{"s":222,"x":1900,"y":-0.47},{"s":222,"x":2500,"y":-0.27},
{"s":223,"x":380,"y":-5.13},{"s":223,"x":410,"y":-5.73},{"s":223,"x":450,"y":-6.23},{"s":223,"x":500,"y":-6.37},{"s":223,"x":560,"y":-5.93},{"s":223,"x":650,"y":-5.17},{"s":223,"x":720,"y":-4.55},{"s":223,"x":800,"y":-3.87},{"s":223,"x":900,"y":-3.15},{"s":223,"x":1050,"y":-2.35},{"s":223,"x":1250,"y":-1.41},{"s":223,"x":1500,"y":-0.88},{"s":223,"x":1900,"y":-0.45},{"s":223,"x":2500,"y":-0.26},
{"s":224,"x":380,"y":-4.55},{"s":224,"x":410,"y":-5.28},{"s":224,"x":450,"y":-5.93},{"s":224,"x":500,"y":-6.18},{"s":224,"x":560,"y":-5.85},{"s":224,"x":650,"y":-5.15},{"s":224,"x":720,"y":-4.53},{"s":224,"x":800,"y":-3.83},{"s":224,"x":900,"y":-3.1},{"s":224,"x":1050,"y":-2.3},{"s":224,"x":1250,"y":-1.36},{"s":224,"x":1500,"y":-0.84},{"s":224,"x":1900,"y":-0.42},{"s":224,"x":2500,"y":-0.24},
{"s":225,"x":380,"y":-3.97},{"s":225,"x":410,"y":-4.82},{"s":225,"x":450,"y":-5.62},{"s":225,"x":500,"y":-5.98},{"s":225,"x":560,"y":-5.77},{"s":225,"x":650,"y":-5.13},{"s":225,"x":720,"y":-4.5},{"s":225,"x":800,"y":-3.78},{"s":225,"x":900,"y":-3.05},{"s":225,"x":1050,"y":-2.25},{"s":225,"x":1250,"y":-1.31},{"s":225,"x":1500,"y":-0.8},{"s":225,"x":1900,"y":-0.39},{"s":225,"x":2500,"y":-0.22},
{"s":226,"x":380,"y":-3.38},{"s":226,"x":410,"y":-4.36},{"s":226,"x":450,"y":-5.31},{"s":226,"x":500,"y":-5.79},{"s":226,"x":560,"y":-5.68},{"s":226,"x":650,"y":-5.12},{"s":226,"x":720,"y":-4.48},{"s":226,"x":800,"y":-3.74},{"s":226,"x":900,"y":-3.0},{"s":226,"x":1050,"y":-2.2},{"s":226,"x":1250,"y":-1.27},{"s":226,"x":1500,"y":-0.77},{"s":226,"x":1900,"y":-0.37},{"s":226,"x":2500,"y":-0.21},
{"s":227,"x":380,"y":-2.8},{"s":227,"x":410,"y":-3.9},{"s":227,"x":450,"y":-5.0},{"s":227,"x":500,"y":-5.6},{"s":227,"x":560,"y":-5.6},{"s":227,"x":650,"y":-5.1},{"s":227,"x":720,"y":-4.45},{"s":227,"x":800,"y":-3.7},{"s":227,"x":900,"y":-2.95},{"s":227,"x":1050,"y":-2.15},{"s":227,"x":1250,"y":-1.22},{"s":227,"x":1500,"y":-0.73},{"s":227,"x":1900,"y":-0.34},{"s":227,"x":2500,"y":-0.19},
{"s":231,"x":380,"y":-3.2},{"s":231,"x":410,"y":-3.3},{"s":231,"x":450,"y":-3.42},{"s":231,"x":500,"y":-3.4},{"s":231,"x":560,"y":-3.15},{"s":231,"x":650,"y":-2.6},{"s":231,"x":720,"y":-2.25},{"s":231,"x":800,"y":-1.85},{"s":231,"x":900,"y":-1.45},{"s":231,"x":1050,"y":-1.05},{"s":231,"x":1250,"y":-0.72},{"s":231,"x":1500,"y":-0.47},{"s":231,"x":1900,"y":-0.27},{"s":231,"x":2500,"y":-0.15},
{"s":232,"x":380,"y":-2.88},{"s":232,"x":410,"y":-3.06},{"s":232,"x":450,"y":-3.26},{"s":232,"x":500,"y":-3.3},{"s":232,"x":560,"y":-3.11},{"s":232,"x":650,"y":-2.59},{"s":232,"x":720,"y":-2.24},{"s":232,"x":800,"y":-1.83},{"s":232,"x":900,"y":-1.42},{"s":232,"x":1050,"y":-1.02},{"s":232,"x":1250,"y":-0.69},{"s":232,"x":1500,"y":-0.45},{"s":232,"x":1900,"y":-0.25},{"s":232,"x":2500,"y":-0.14},
{"s":233,"x":380,"y":-2.56},{"s":233,"x":410,"y":-2.82},{"s":233,"x":450,"y":-3.09},{"s":233,"x":500,"y":-3.2},{"s":233,"x":560,"y":-3.07},{"s":233,"x":650,"y":-2.58},{"s":233,"x":720,"y":-2.22},{"s":233,"x":800,"y":-1.8},{"s":233,"x":900,"y":-1.39},{"s":233,"x":1050,"y":-0.99},{"s":233,"x":1250,"y":-0.66},{"s":233,"x":1500,"y":-0.43},{"s":233,"x":1900,"y":-0.24},{"s":233,"x":2500,"y":-0.13},
{"s":234,"x":380,"y":-2.24},{"s":234,"x":410,"y":-2.58},{"s":234,"x":450,"y":-2.93},{"s":234,"x":500,"y":-3.1},{"s":234,"x":560,"y":-3.03},{"s":234,"x":650,"y":-2.57},{"s":234,"x":720,"y":-2.21},{"s":234,"x":800,"y":-1.78},{"s":234,"x":900,"y":-1.36},{"s":234,"x":1050,"y":-0.96},{"s":234,"x":1250,"y":-0.64},{"s":234,"x":1500,"y":-0.4},{"s":234,"x":1900,"y":-0.22},{"s":234,"x":2500,"y":-0.12},
{"s":235,"x":380,"y":-1.92},{"s":235,"x":410,"y":-2.34},{"s":235,"x":450,"y":-2.76},{"s":235,"x":500,"y":-3.0},{"s":235,"x":560,"y":-2.99},{"s":235,"x":650,"y":-2.56},{"s":235,"x":720,"y":-2.19},{"s":235,"x":800,"y":-1.75},{"s":235,"x":900,"y":-1.33},{"s":235,"x":1050,"y":-0.93},{"s":235,"x":1250,"y":-0.61},{"s":235,"x":1500,"y":-0.38},{"s":235,"x":1900,"y":-0.21},{"s":235,"x":2500,"y":-0.11},
{"s":236,"x":380,"y":-1.6},{"s":236,"x":410,"y":-2.1},{"s":236,"x":450,"y":-2.6},{"s":236,"x":500,"y":-2.9},{"s":236,"x":560,"y":-2.95},{"s":236,"x":650,"y":-2.55},{"s":236,"x":720,"y":-2.18},{"s":236,"x":800,"y":-1.73},{"s":236,"x":900,"y":-1.3},{"s":236,"x":1050,"y":-0.9},{"s":236,"x":1250,"y":-0.58},{"s":236,"x":1500,"y":-0.36},{"s":236,"x":1900,"y":-0.19},{"s":236,"x":2500,"y":-0.1}
]},
"hconcat":[
{"width":570,"height":361.6,"title":"(a)","data":{"name":"a"},
"layer":[
{"mark":{"type":"line","strokeWidth":1.15,"interpolate":"catmull-rom","clip":true},
"encoding":{
"x":{"field":"x","type":"quantitative","scale":{"type":"log","domain":[380,2500],"nice":false},"axis":{"orient":"bottom","values":[380,500,650,800,1100,1500,2500],"format":"d","tickSize":-6.5,"labelPadding":12,"title":"Wavelength (nm)","titlePadding":9}},
"y":{"field":"y","type":"quantitative","scale":{"domain":[-36.2,36.2],"nice":false,"zero":false},"axis":{"orient":"left","values":[-30,-20,-10,0,10,20,30],"tickSize":-6.5,"labelPadding":10,"title":"Linear retardance magnitude (degrees)","titlePadding":10}},
"detail":{"field":"s","type":"nominal"},
"color":{"datum":"Linear retardance magnitude","type":"nominal","scale":{"range":["#0000ff"]},"legend":{"orient":"bottom-right","offset":17}}}},
{"transform":[{"filter":"datum.s == 1"}],"mark":{"type":"line","opacity":0},
"encoding":{
"x":{"field":"x","type":"quantitative","scale":{"type":"log","domain":[380,2500],"nice":false},"axis":{"orient":"top","values":[500,650,800,1100,1500],"tickSize":-6.5,"labels":false,"title":null}},
"y":{"field":"y","type":"quantitative","scale":{"domain":[-36.2,36.2],"nice":false,"zero":false},"axis":{"orient":"right","values":[-30,-20,-10,0,10,20,30],"tickSize":-6.5,"labels":false,"title":null}}}},
{"transform":[{"filter":"datum.s == 1"}],"mark":{"type":"line","opacity":0},
"encoding":{
"x":{"field":"x","type":"quantitative","scale":{"type":"log","domain":[380,2500],"nice":false},"axis":{"orient":"bottom","values":[400,600,700,900,2000],"tickSize":-3.5,"labels":false,"title":null}},
"y":{"field":"y","type":"quantitative","scale":{"domain":[-36.2,36.2],"nice":false,"zero":false},"axis":null}}},
{"transform":[{"filter":"datum.s == 1"}],"mark":{"type":"line","opacity":0},
"encoding":{
"x":{"field":"x","type":"quantitative","scale":{"type":"log","domain":[380,2500],"nice":false},"axis":{"orient":"top","values":[400,600,700,900,2000],"tickSize":-3.5,"labels":false,"title":null}},
"y":{"field":"y","type":"quantitative","scale":{"domain":[-36.2,36.2],"nice":false,"zero":false},"axis":null}}}
],
"resolve":{"axis":{"x":"independent","y":"independent"}}},
{"width":570.3,"height":373.4,"title":"(b)","data":{"name":"b"},
"layer":[
{"mark":{"type":"line","interpolate":"catmull-rom","clip":true},
"encoding":{
"x":{"field":"x","type":"quantitative","scale":{"type":"log","domain":[380,2500],"nice":false},"axis":{"orient":"bottom","values":[380,500,650,800,1100,1500,2500],"format":"d","tickSize":-6.5,"labelPadding":12,"title":"Wavelength (nm)","titlePadding":9}},
"y":{"field":"y","type":"quantitative","scale":{"domain":[-14,14],"nice":false,"zero":false},"axis":{"orient":"left","values":[-10,-5,0,5,10],"tickSize":-6.5,"labelPadding":15,"title":"Retardance components (degrees)","titlePadding":10}},
"detail":{"field":"s","type":"nominal"},
"strokeWidth":{"condition":{"test":"datum.s == 300","value":2},"value":1.05},
"color":{"datum":"Circular retardance (Q to U)","type":"nominal","scale":{"range":["#ff0000"]},"legend":{"orient":"bottom-right","offset":17}}}},
{"transform":[{"filter":"datum.s == 300"}],"mark":{"type":"line","opacity":0},
"encoding":{
"x":{"field":"x","type":"quantitative","scale":{"type":"log","domain":[380,2500],"nice":false},"axis":{"orient":"top","values":[500,650,800,1100,1500],"tickSize":-6.5,"labels":false,"title":null}},
"y":{"field":"y","type":"quantitative","scale":{"domain":[-14,14],"nice":false,"zero":false},"axis":{"orient":"right","values":[-10,-5,0,5,10],"tickSize":-6.5,"labels":false,"title":null}}}},
{"transform":[{"filter":"datum.s == 300"}],"mark":{"type":"line","opacity":0},
"encoding":{
"x":{"field":"x","type":"quantitative","scale":{"type":"log","domain":[380,2500],"nice":false},"axis":{"orient":"bottom","values":[400,600,700,900,2000],"tickSize":-3.5,"labels":false,"title":null}},
"y":{"field":"y","type":"quantitative","scale":{"domain":[-14,14],"nice":false,"zero":false},"axis":null}}},
{"transform":[{"filter":"datum.s == 300"}],"mark":{"type":"line","opacity":0},
"encoding":{
"x":{"field":"x","type":"quantitative","scale":{"type":"log","domain":[380,2500],"nice":false},"axis":{"orient":"top","values":[400,600,700,900,2000],"tickSize":-3.5,"labels":false,"title":null}},
"y":{"field":"y","type":"quantitative","scale":{"domain":[-14,14],"nice":false,"zero":false},"axis":null}}}
],
"resolve":{"axis":{"x":"independent","y":"independent"}}}
],
"spacing":107.7,
"bounds":"flush",
"center":true,
"resolve":{"scale":{"color":"independent"},"legend":{"color":"independent"}}
}
